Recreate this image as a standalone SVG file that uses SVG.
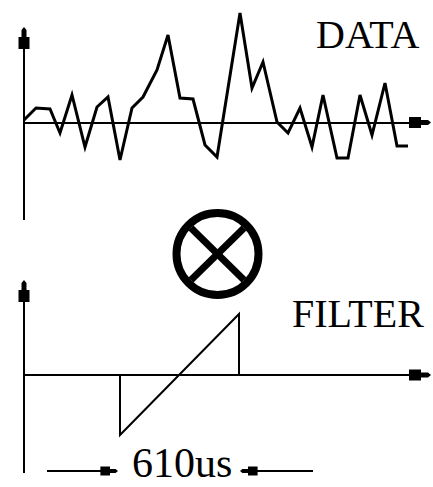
<svg xmlns="http://www.w3.org/2000/svg" xmlns:xlink="http://www.w3.org/1999/xlink" width="433" height="487" viewBox="0 0 433 487">
<style>
.ax{stroke:#000;stroke-width:2;fill:none}
.sig{stroke:#000;stroke-width:3;fill:none;stroke-linejoin:miter}
.flt{stroke:#000;stroke-width:2;fill:none}
.lbl{font-family:"Liberation Serif","Times New Roman",serif;font-size:40px;fill:#000}
.ah{fill:#000}
</style>
<defs>
<path id="hd" d="M0,0 L2.5,3 L2.5,10 L5.5,10 L5.5,22 L-5.5,22 L-5.5,10 L-2.5,10 L-2.5,3 Z"/>
</defs>
<rect width="433" height="487" fill="#fff"/>
<g id="data-plot">
<line class="ax" x1="24" y1="40" x2="24" y2="220"/>
<line class="ax" x1="24" y1="123" x2="415" y2="123"/>
<use href="#hd" class="ah" transform="translate(24,27)"/>
<use href="#hd" class="ah" transform="translate(431,122.5) rotate(90)"/>
<polyline class="sig" points="24,120 36,108 50,109 60,133 72,95 85,147 97,107 108,97 120,160 132,108 143,97 157,70 168,35 180,98 193,99 205,145 217,157 240,13 252,88 263,62 277,122 288,133 300,108 312,147 323,95 337,158 348,158 360,95 372,135 385,83 397,146 408,146"/>
<text class="lbl" x="316" y="48">DATA</text>
</g>
<g id="multiply">
<circle cx="217.5" cy="254" r="41" fill="none" stroke="#000" stroke-width="8"/>
<line x1="191" y1="228" x2="244" y2="280" stroke="#000" stroke-width="7"/>
<line x1="244" y1="228" x2="191" y2="280" stroke="#000" stroke-width="7"/>
</g>
<g id="filter-plot">
<line class="ax" x1="24" y1="292" x2="24" y2="473"/>
<line class="ax" x1="24" y1="375" x2="415" y2="375"/>
<use href="#hd" class="ah" transform="translate(24,280)"/>
<use href="#hd" class="ah" transform="translate(431,375) rotate(90)"/>
<polyline class="flt" points="120,375 120,435 239,314 239,375"/>
<text class="lbl" x="292" y="327">FILTER</text>
</g>
<g id="connectors">
<line class="ax" x1="47" y1="471" x2="105" y2="471"/>
<use href="#hd" class="ah" transform="translate(118,471) rotate(90) scale(0.8)"/>
<line class="ax" x1="252" y1="471" x2="313" y2="471"/>
<use href="#hd" class="ah" transform="translate(240,471) rotate(-90) scale(0.8)"/>
<text class="lbl" x="132" y="477" style="font-size:42px">610us</text>
</g>
</svg>
